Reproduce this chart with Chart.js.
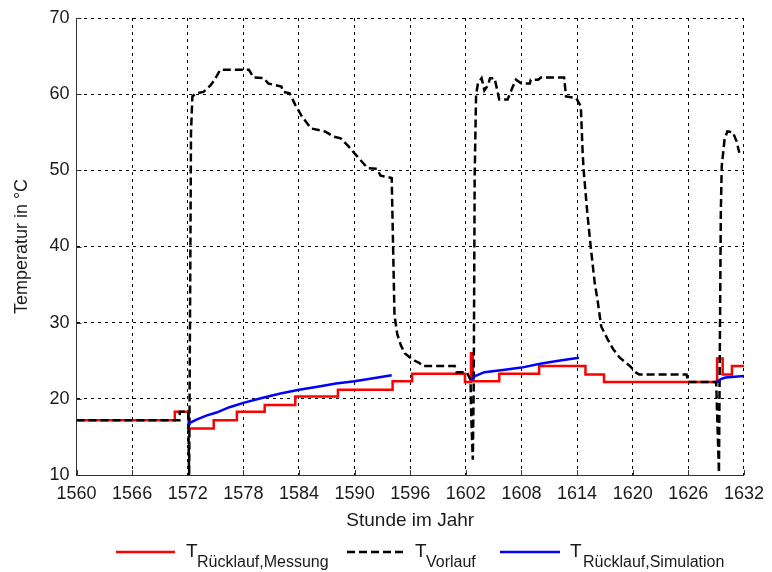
<!DOCTYPE html>
<html>
<head>
<meta charset="utf-8">
<script src="https://cdn.jsdelivr.net/npm/chart.js@4/dist/chart.umd.min.js"></script>
<style>
  html, body { margin: 0; padding: 0; background: #fff; }
  #wrap { position: relative; width: 772px; height: 572px; }
  #chart { position: absolute; left: 0; top: 0; }
  #legend { position: absolute; left: 0; top: 530px; }
  #legend text { font-family: 'Liberation Sans', Arial, sans-serif; fill: #1a1a1a; }
</style>
</head>
<body>
<div id="wrap">
  <canvas id="chart" width="772" height="572"></canvas>
  <svg id="legend" width="772" height="42" xmlns="http://www.w3.org/2000/svg">
    <line x1="116" y1="22" x2="175" y2="22" stroke="#ff0000" stroke-width="2.5"/>
    <text x="186" y="27" font-size="19">T</text>
    <text x="197" y="37" font-size="16">Rücklauf,Messung</text>
    <line x1="347" y1="22" x2="405" y2="22" stroke="#000" stroke-width="2.5" stroke-dasharray="8,4"/>
    <text x="415" y="27" font-size="19">T</text>
    <text x="426" y="37" font-size="16">Vorlauf</text>
    <line x1="500" y1="22" x2="560" y2="22" stroke="#0000ff" stroke-width="2.5"/>
    <text x="570" y="27" font-size="19">T</text>
    <text x="583" y="37" font-size="16">Rücklauf,Simulation</text>
  </svg>
</div>
<script>
// Axis ranges and tick spacing
const hourMin = 1560, hourMax = 1632, hourStep = 6;
const tempMin = 10, tempMax = 70, tempStep = 10;

// Measured return temperature: hour at which each new reading starts, and its value
const messungHours = [1560, 1570.6, 1572.1, 1574.8, 1577.3, 1580.3, 1583.6, 1588.2, 1594.1, 1596.2,
  1601.9, 1602.55, 1602.75, 1605.6, 1609.9, 1614.9, 1616.9, 1629.1, 1629.7, 1630.7, 1632];
const messungTemps = [17.2, 18.3, 16.1, 17.2, 18.3, 19.2, 20.3, 21.2, 22.3, 23.3,
  22.2, 26.0, 22.3, 23.3, 24.3, 23.2, 22.2, 25.3, 23.2, 24.3, 24.3];

// Supply temperature
const vorlaufHours = [1560, 1571.1, 1571.15, 1572.05, 1572.15, 1572.3, 1572.35, 1572.5, 1572.9, 1573.7,
  1574.5, 1575.0, 1575.5, 1578.6, 1579.1, 1580.2, 1580.7, 1582.1, 1582.3, 1583.0,
  1583.6, 1584.3, 1585.3, 1586.8, 1587.8, 1588.5, 1589.3, 1590.3, 1591.4, 1592.4,
  1592.8, 1594.0, 1594.15, 1594.3, 1594.6, 1595.0, 1595.4, 1595.9, 1596.5, 1597.0,
  1597.3, 1600.8, 1601.0, 1602.1, 1602.5, 1602.6, 1602.75, 1602.85, 1602.95, 1603.1,
  1603.3, 1603.7, 1604.0, 1604.4, 1604.6, 1605.1, 1605.6, 1606.5, 1607.0, 1607.4,
  1608.0, 1608.9, 1609.0, 1609.8, 1610.1, 1612.6, 1612.8, 1613.9, 1614.4, 1614.6,
  1614.7, 1615.1, 1615.5, 1615.9, 1616.2, 1616.6, 1617.3, 1617.9, 1618.6, 1619.7,
  1620.4, 1620.7, 1625.8, 1626.0, 1629.0, 1629.3, 1629.5, 1629.6, 1629.9, 1630.2,
  1630.8, 1631.2, 1631.5];
const vorlaufTemps = [17.2, 17.2, 18.3, 18.3, 9.5, 43.0, 54.9, 59.7, 60.1, 60.3,
  61.2, 62.1, 63.2, 63.2, 62.2, 62.1, 61.4, 61.0, 60.3, 60.1,
  58.6, 57.1, 55.5, 55.1, 54.4, 54.2, 53.2, 51.8, 50.3, 50.2,
  49.3, 49.0, 40.0, 31.0, 28.5, 27.0, 26.0, 25.5, 25.0, 24.7,
  24.3, 24.3, 23.5, 23.5, 22.5, 17.0, 12.0, 22.0, 49.2, 59.9,
  61.4, 62.1, 60.5, 61.2, 62.1, 62.1, 59.3, 59.3, 60.8, 61.9,
  61.4, 61.4, 61.9, 61.9, 62.2, 62.2, 59.7, 59.5, 58.4, 52.3,
  50.1, 44.4, 39.6, 35.2, 33.0, 29.5, 27.8, 26.5, 25.4, 24.3,
  23.4, 23.2, 23.2, 22.2, 22.2, 10.3, 44.4, 50.5, 54.0, 55.1,
  55.0, 53.8, 52.3];

// Simulated return temperature (null separates the three heating periods)
const simulationHours = [1572.0, 1573, 1574, 1575.1, 1576.5, 1578.1, 1580, 1582, 1584, 1586,
  1588, 1590, 1592, 1594, 1598, 1602.6, 1603, 1604, 1606, 1608,
  1610, 1612, 1614.2, 1620, 1629.1, 1629.5, 1630, 1631, 1632];
const simulationTemps = [16.7, 17.3, 17.8, 18.2, 18.9, 19.5, 20.1, 20.7, 21.2, 21.6,
  22.0, 22.3, 22.7, 23.1, null, 22.5, 23.0, 23.5, 23.8, 24.1,
  24.6, 25.0, 25.4, null, 22.2, 22.6, 22.8, 22.9, 23.0];

const toPoints = (xs, ys) => xs.map((x, i) => ({ x: x, y: ys[i] }));

const fontFamily = "'Liberation Sans', Arial, sans-serif";
const textColor = '#1a1a1a';
const axisColor = '#333333';

// Short tick marks pointing into the plot area, drawn along the bottom and left axes
const innerTicks = {
  id: 'innerTicks',
  beforeDatasetsDraw(chart) {
    const { ctx, chartArea, scales } = chart;
    ctx.save();
    ctx.strokeStyle = axisColor;
    ctx.lineWidth = 1;
    ctx.beginPath();
    scales.x.ticks.forEach(t => {
      const px = Math.round(scales.x.getPixelForValue(t.value)) + 0.5;
      ctx.moveTo(px, chartArea.bottom);
      ctx.lineTo(px, chartArea.bottom - 5);
    });
    scales.y.ticks.forEach(t => {
      const py = Math.round(scales.y.getPixelForValue(t.value)) + 0.5;
      ctx.moveTo(chartArea.left, py);
      ctx.lineTo(chartArea.left + 5, py);
    });
    ctx.stroke();
    ctx.restore();
  }
};

const gridOpts = { color: '#000000', lineWidth: 1, drawTicks: false };
const borderOpts = { display: true, color: axisColor, width: 1, dash: [3, 4] };

new Chart(document.getElementById('chart'), {
  type: 'line',
  data: {
    datasets: [
      {
        label: 'T Rücklauf,Messung',
        data: toPoints(messungHours, messungTemps),
        borderColor: '#ff0000',
        borderWidth: 2.5,
        stepped: true,
        pointRadius: 0,
        order: 3
      },
      {
        label: 'T Vorlauf',
        data: toPoints(vorlaufHours, vorlaufTemps),
        borderColor: '#000000',
        borderWidth: 2.5,
        borderDash: [8, 4],
        tension: 0,
        pointRadius: 0,
        order: 2
      },
      {
        label: 'T Rücklauf,Simulation',
        data: toPoints(simulationHours, simulationTemps),
        borderColor: '#0000ff',
        borderWidth: 2.5,
        tension: 0,
        spanGaps: false,
        pointRadius: 0,
        order: 1
      }
    ]
  },
  options: {
    responsive: false,
    animation: false,
    layout: { padding: { top: 18, right: 22.5, left: 0, bottom: 0 } },
    plugins: { legend: { display: false }, tooltip: { enabled: false } },
    scales: {
      x: {
        type: 'linear',
        min: hourMin,
        max: hourMax,
        ticks: {
          stepSize: hourStep,
          autoSkip: false,
          maxRotation: 0,
          padding: 8,
          color: textColor,
          font: { family: fontFamily, size: 18 },
          callback: v => String(v)
        },
        grid: gridOpts,
        border: borderOpts,
        title: {
          display: true,
          text: 'Stunde im Jahr',
          color: textColor,
          font: { family: fontFamily, size: 19 },
          padding: { top: 0, bottom: 40 }
        },
        afterFit(scale) { scale.height = 97; }
      },
      y: {
        min: tempMin,
        max: tempMax,
        ticks: {
          stepSize: tempStep,
          padding: 7,
          color: textColor,
          font: { family: fontFamily, size: 18 }
        },
        grid: gridOpts,
        border: borderOpts,
        title: {
          display: true,
          text: 'Temperatur in °C',
          color: textColor,
          font: { family: fontFamily, size: 18 },
          padding: { top: 11, bottom: 0 }
        },
        afterFit(scale) { scale.width = 76.5; }
      }
    }
  },
  plugins: [innerTicks]
});
</script>
</body>
</html>
